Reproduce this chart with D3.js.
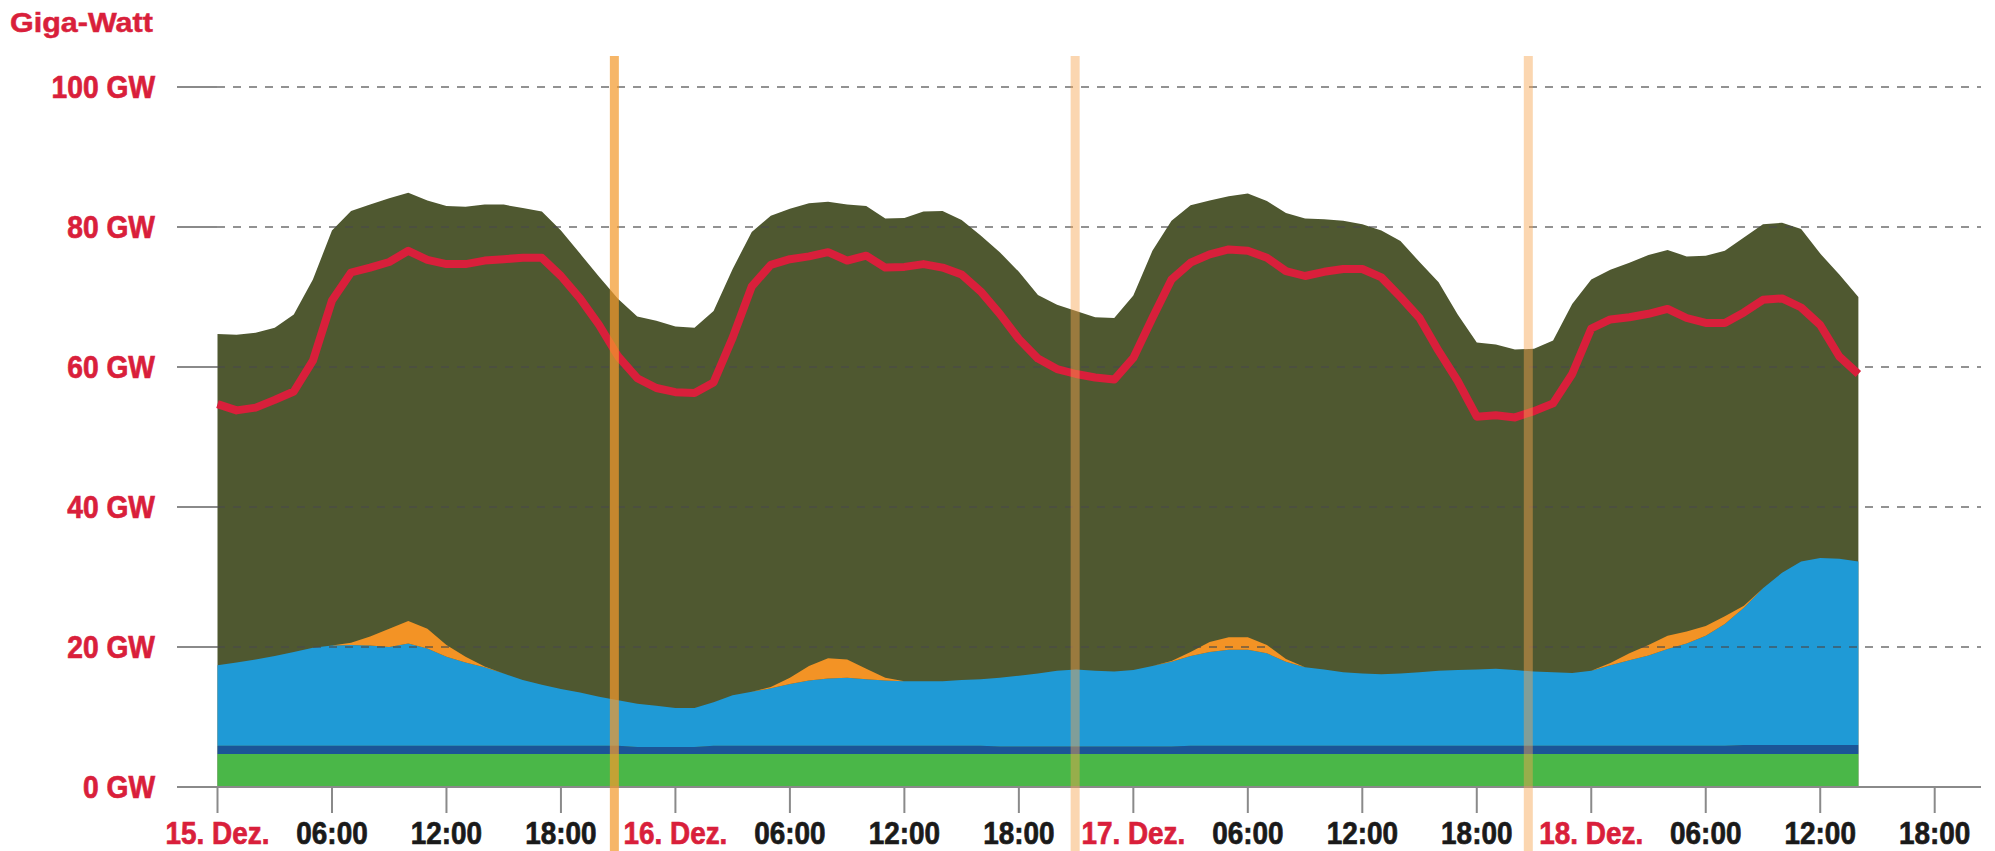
<!DOCTYPE html>
<html>
<head>
<meta charset="utf-8">
<script src="https://cdn.jsdelivr.net/npm/d3@7"></script>
<style>
  body { margin: 0; background: #fff; }
  svg { display: block; }
  text { font-family: "Liberation Sans", Arial, sans-serif; font-weight: bold; }
</style>
</head>
<body>
<svg width="1995" height="851"></svg>
<script>
// hourly values, 15. Dez 00:00 .. 18. Dez 14:00 (GW)
var total = [
  64.7, 64.6, 64.9, 65.6, 67.5, 72.5, 79.5, 82.3, 83.2, 84.1,
  84.9, 83.8, 83.0, 82.9, 83.2, 83.2, 82.7, 82.2, 79.5, 76.2,
  72.9, 69.7, 67.2, 66.6, 65.8, 65.6, 68.0, 74.0, 79.3, 81.6,
  82.6, 83.4, 83.6, 83.2, 83.0, 81.2, 81.3, 82.2, 82.3, 81.0,
  78.8, 76.4, 73.6, 70.3, 68.9, 68.0, 67.1, 67.0, 70.2, 76.6,
  80.9, 83.1, 83.8, 84.4, 84.8, 83.7, 82.0, 81.2, 81.1, 80.9,
  80.4, 79.5, 78.0, 75.0, 72.1, 67.5, 63.5, 63.2, 62.5, 62.6,
  63.8, 69.0, 72.5, 73.9, 74.9, 76.0, 76.7, 75.8, 75.9, 76.6,
  78.5, 80.4, 80.6, 79.7, 76.2, 73.2, 70.0
];
var load = [
  54.7, 53.8, 54.2, 55.3, 56.5, 60.9, 69.5, 73.5, 74.2, 75.0,
  76.6, 75.3, 74.7, 74.7, 75.2, 75.4, 75.6, 75.6, 73.0, 69.8,
  66.0, 61.5, 58.4, 57.0, 56.4, 56.3, 57.8, 64.2, 71.5, 74.6,
  75.4, 75.8, 76.4, 75.2, 75.9, 74.2, 74.3, 74.7, 74.2, 73.2,
  70.8, 67.6, 64.0, 61.2, 59.7, 59.0, 58.5, 58.2, 61.3, 67.0,
  72.5, 74.9, 76.1, 76.8, 76.6, 75.6, 73.7, 73.0, 73.6, 74.0,
  74.0, 72.8, 70.0, 67.0, 62.3, 58.0, 52.9, 53.1, 52.8, 53.7,
  54.8, 59.0, 65.5, 66.8, 67.1, 67.6, 68.3, 67.0, 66.3, 66.3,
  67.8, 69.6, 69.8, 68.5, 66.0, 61.5, 59.0
];
var biomass = [
  4.7, 4.7, 4.7, 4.7, 4.7, 4.7, 4.7, 4.7, 4.7, 4.7,
  4.7, 4.7, 4.7, 4.7, 4.7, 4.7, 4.7, 4.7, 4.7, 4.7,
  4.7, 4.7, 4.7, 4.7, 4.7, 4.7, 4.7, 4.7, 4.7, 4.7,
  4.7, 4.7, 4.7, 4.7, 4.7, 4.7, 4.7, 4.7, 4.7, 4.7,
  4.7, 4.7, 4.7, 4.7, 4.7, 4.7, 4.7, 4.7, 4.7, 4.7,
  4.7, 4.7, 4.7, 4.7, 4.7, 4.7, 4.7, 4.7, 4.7, 4.7,
  4.7, 4.7, 4.7, 4.7, 4.7, 4.7, 4.7, 4.7, 4.7, 4.7,
  4.7, 4.7, 4.7, 4.7, 4.7, 4.7, 4.7, 4.7, 4.7, 4.7,
  4.7, 4.7, 4.7, 4.7, 4.7, 4.7, 4.7
];
var hydro = [
  1.2, 1.2, 1.2, 1.2, 1.2, 1.2, 1.2, 1.2, 1.2, 1.2,
  1.2, 1.2, 1.2, 1.2, 1.2, 1.2, 1.2, 1.2, 1.2, 1.2,
  1.2, 1.2, 1.0, 1.0, 1.0, 1.0, 1.2, 1.2, 1.2, 1.2,
  1.2, 1.2, 1.2, 1.2, 1.2, 1.2, 1.2, 1.2, 1.2, 1.2,
  1.2, 1.1, 1.1, 1.1, 1.1, 1.1, 1.1, 1.1, 1.1, 1.1,
  1.1, 1.2, 1.2, 1.2, 1.2, 1.2, 1.2, 1.2, 1.2, 1.2,
  1.2, 1.2, 1.2, 1.2, 1.2, 1.2, 1.2, 1.2, 1.2, 1.2,
  1.2, 1.2, 1.2, 1.2, 1.2, 1.2, 1.2, 1.2, 1.2, 1.2,
  1.3, 1.3, 1.3, 1.3, 1.3, 1.3, 1.3
];
var wind = [
  11.5, 11.9, 12.3, 12.8, 13.4, 14.0, 14.3, 14.4, 14.3, 14.1,
  14.6, 13.9, 12.7, 11.9, 11.2, 10.3, 9.4, 8.7, 8.1, 7.6,
  7.0, 6.5, 6.2, 5.9, 5.6, 5.6, 6.2, 7.2, 7.7, 8.2,
  8.8, 9.3, 9.6, 9.7, 9.5, 9.3, 9.2, 9.2, 9.2, 9.4,
  9.5, 9.8, 10.1, 10.4, 10.8, 11.0, 10.8, 10.7, 10.9, 11.5,
  12.1, 12.8, 13.4, 13.7, 13.7, 13.2, 12.0, 11.2, 10.9, 10.5,
  10.3, 10.2, 10.3, 10.5, 10.7, 10.8, 10.9, 11.0, 10.8, 10.6,
  10.5, 10.4, 10.7, 11.5, 12.2, 12.9, 13.8, 14.6, 15.7, 17.4,
  19.6, 22.4, 24.6, 26.2, 26.7, 26.6, 26.2
];
var solar = [
  0, 0, 0, 0, 0, 0, 0, 0.3, 1.3, 2.6,
  3.2, 2.8, 1.7, 0.8, 0.1, 0, 0, 0, 0, 0,
  0, 0, 0, 0, 0, 0, 0, 0, 0, 0.2,
  0.9, 2.1, 2.9, 2.6, 1.5, 0.4, 0, 0, 0, 0,
  0, 0, 0, 0, 0, 0, 0, 0, 0, 0,
  0.1, 0.6, 1.4, 1.8, 1.8, 1.2, 0.4, 0, 0, 0,
  0, 0, 0, 0, 0, 0, 0, 0, 0, 0,
  0, 0, 0, 0.3, 1.0, 1.5, 1.9, 1.7, 1.4, 1.1,
  0.3, 0, 0, 0, 0, 0, 0
];
var markers = ["2014-12-15T20:48", "2014-12-16T20:57", "2014-12-17T20:42"];
var yTicks = [0, 20, 40, 60, 80, 100];
var yTickLabels = ["0 GW", "20 GW", "40 GW", "60 GW", "80 GW", "100 GW"];
var xTickLabels = ["15. Dez.", "06:00", "12:00", "18:00",
                   "16. Dez.", "06:00", "12:00", "18:00",
                   "17. Dez.", "06:00", "12:00", "18:00",
                   "18. Dez.", "06:00", "12:00", "18:00"];

var red = "#d91f3b";
var start = new Date(2014, 11, 15);
var rows = total.map(function(t, i) {
    return { time: d3.timeHour.offset(start, i), total: t, load: load[i],
             biomass: biomass[i], hydro: hydro[i], wind: wind[i], solar: solar[i] };
});

var x = d3.scaleTime()
    .domain([start, d3.timeDay.offset(start, 4)])
    .range([217.5, 217.5 + 96 * 19.08]);
var y = d3.scaleLinear().domain([0, 100]).range([787, 87]);

var svg = d3.select("svg");

// total generation (conventional on top)
svg.append("path")
    .datum(rows)
    .attr("fill", "#4f5830")
    .attr("d", d3.area().x(d => x(d.time)).y0(y(0)).y1(d => y(d.total)));

var keys = ["biomass", "hydro", "wind", "solar"];
var colors = { biomass: "#4ab748", hydro: "#1b5597", wind: "#1f9ad6", solar: "#f39325" };
var series = d3.stack().keys(keys)(rows);
svg.append("g").selectAll("path")
    .data(series)
    .enter().append("path")
    .attr("fill", s => colors[s.key])
    .attr("d", d3.area().x(d => x(d.data.time)).y0(d => y(d[0])).y1(d => y(d[1])));

// grid
var grid = svg.append("g");
grid.selectAll("line.dash")
    .data(yTicks.filter(v => v > 0))
    .enter().append("line")
    .attr("x1", 217).attr("x2", 1981)
    .attr("y1", v => y(v)).attr("y2", v => y(v))
    .attr("stroke", "#4a4a4a").attr("stroke-opacity", 0.6)
    .attr("stroke-width", 2).attr("stroke-dasharray", "8,8");
grid.selectAll("line.tick")
    .data(yTicks)
    .enter().append("line")
    .attr("x1", 177).attr("x2", v => v === 0 ? 1981 : 217)
    .attr("y1", v => y(v)).attr("y2", v => y(v))
    .attr("stroke", "#8a8a8a").attr("stroke-width", 2);

var xTicks = d3.timeHour.every(6).range(start, new Date(2014, 11, 18, 18, 1));
grid.selectAll("line.xt")
    .data(xTicks)
    .enter().append("line")
    .attr("x1", d => x(d)).attr("x2", d => x(d))
    .attr("y1", 787).attr("y2", 813)
    .attr("stroke", "#8a8a8a").attr("stroke-width", 2);

// demand
svg.append("path")
    .datum(rows)
    .attr("fill", "none")
    .attr("stroke", red)
    .attr("stroke-width", 8)
    .attr("stroke-linejoin", "round")
    .attr("d", d3.line().x(d => x(d.time)).y(d => y(d.load)));

// labels (condensed, heavy look)
svg.selectAll("text.y")
    .data(yTicks)
    .enter().append("text")
    .attr("transform", v => "translate(155," + y(v) + ") scale(0.91,1)")
    .attr("dy", "0.36em")
    .attr("text-anchor", "end")
    .attr("font-size", 31)
    .attr("fill", red)
    .attr("stroke", red).attr("stroke-width", 0.7)
    .text((v, i) => yTickLabels[i]);

svg.selectAll("text.x")
    .data(xTicks)
    .enter().append("text")
    .attr("transform", d => "translate(" + x(d) + ",844) scale(0.9,1)")
    .attr("text-anchor", "middle")
    .attr("font-size", 31)
    .attr("fill", (d, i) => i % 4 === 0 ? red : "#1a1a1a")
    .attr("stroke", (d, i) => i % 4 === 0 ? red : "#1a1a1a")
    .attr("stroke-width", 0.7)
    .text((d, i) => xTickLabels[i]);

svg.append("text")
    .attr("transform", "translate(10,32) scale(1.09,1)")
    .attr("font-size", 28)
    .attr("fill", red)
    .attr("stroke", red).attr("stroke-width", 0.5)
    .text("Giga-Watt");

// time markers
svg.selectAll("rect.m")
    .data(markers)
    .enter().append("rect")
    .attr("x", d => x(new Date(d)) - 4.5)
    .attr("y", 56)
    .attr("width", 9)
    .attr("height", 795)
    .attr("fill", (d, i) => i === 0 ? "#f29a2e" : "#f6a550")
    .attr("fill-opacity", (d, i) => i === 0 ? 0.72 : 0.45);
</script>
</body>
</html>
